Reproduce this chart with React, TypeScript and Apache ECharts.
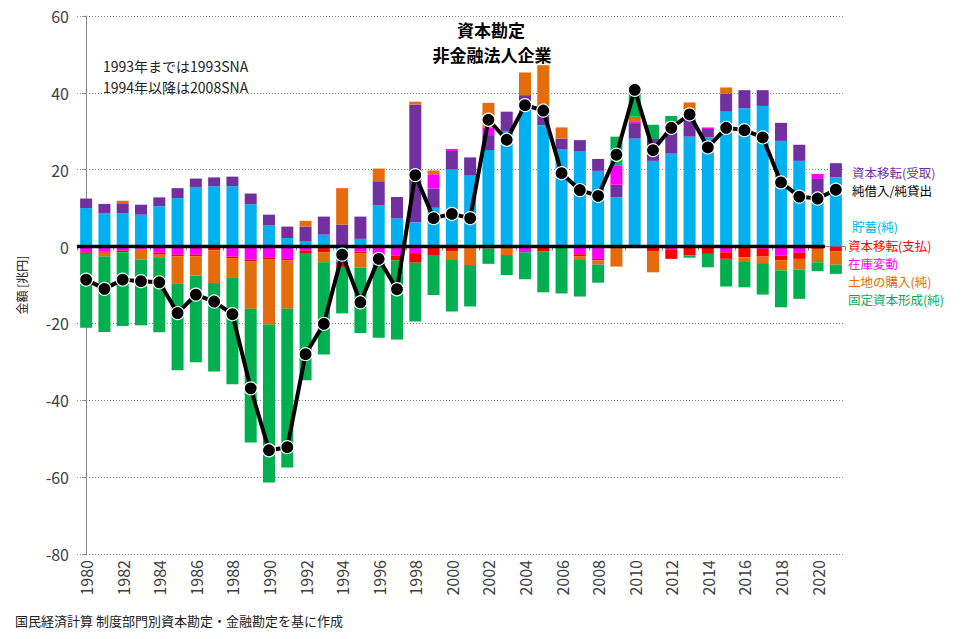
import React, { useEffect, useRef } from 'react';
import * as echarts from 'echarts';

const years = [
  '1980','1981','1982','1983','1984','1985','1986','1987','1988','1989',
  '1990','1991','1992','1993','1994','1995','1996','1997','1998','1999',
  '2000','2001','2002','2003','2004','2005','2006','2007','2008','2009',
  '2010','2011','2012','2013','2014','2015','2016','2017','2018','2019',
  '2020','2021',
];

// 貯蓄(純)
const savings = [10.0, 8.7, 8.7, 8.3, 10.5, 12.6, 15.4, 15.7, 15.7, 11.0, 5.5, 2.2, 1.3, 3.1, -4.0, 2.0, 10.7, 7.3, 6.3, 10.1, 20.1, 18.6, 25.1, 30.1, 37.2, 31.6, 25.3, 24.7, 19.7, 12.8, 28.1, 22.3, 24.2, 28.6, 28.4, 35.1, 36.0, 36.6, 27.5, 22.3, 12.8, 18.0];
// 資本移転(受取)
const capTransRecv = [2.5, 2.4, 2.6, 2.6, 2.3, 2.6, 2.3, 2.3, 2.5, 2.8, 2.8, 3.0, 3.9, 4.7, 5.7, 5.8, 6.3, 5.6, 30.7, 5.0, 4.8, 4.6, 3.9, 5.0, 2.2, 3.2, 2.8, 3.0, 3.1, 3.3, 3.8, 5.7, 6.6, 5.9, 2.2, 4.7, 4.7, 4.1, 4.7, 4.2, 4.8, 3.7];
// 在庫変動
const inventory = [-1.5, -1.3, -1.0, -0.6, -1.6, -2.1, -2.1, 0, -2.6, -3.4, -2.8, -3.2, -1.0, 0, 0, -1.3, -2.9, -2.4, -1.7, 3.7, 0.5, 0, 2.0, 0, -1.2, 0, 0, -2.0, -3.2, 4.9, 0.5, 0, -0.7, 0, 0.4, -1.5, 0, -0.6, -2.3, -1.6, 1.3, 0];
// 資本移転(支払)
const capTransPaid = [-0.4, -0.3, -0.5, 0, -0.5, -0.4, -0.4, -1.0, -0.4, -0.5, -0.6, -0.4, -0.7, -1.5, -1.3, -0.4, 0, -1.2, -2.5, -2.2, -1.3, -0.4, -0.5, -0.2, -0.3, -1.3, -0.2, -0.6, -0.4, 0, -0.3, -1.3, -2.5, -2.3, -1.9, -1.7, -2.8, -2.0, -1.3, -1.6, -0.6, -1.2];
// 土地の購入(純)
const landPurchase = [0, -1.0, 0.6, -2.8, -0.7, -7.2, -5.0, -8.5, -5.0, -12.3, -16.9, -12.6, 1.5, -2.6, 9.5, -3.8, 3.3, 0, 0.7, 1.0, -2.2, -4.4, 6.4, -2.0, 5.9, 12.4, 2.9, -0.9, -1.1, -5.2, 1.4, -5.4, 1.7, 3.0, 0, 1.6, -1.0, -1.7, -2.6, -2.8, -3.5, -3.5];
// 固定資本形成(純)
const fixedCapital = [-19.2, -19.6, -19.2, -17.1, -19.5, -22.5, -22.6, -23.0, -27.8, -34.8, -41.1, -41.3, -33.1, -24.0, -12.1, -17.0, -20.8, -20.6, -15.3, -10.4, -13.4, -10.8, -4.0, -5.2, -7.0, -10.6, -12.0, -9.5, -4.7, 7.6, 7.5, 3.7, 1.5, -0.6, -3.5, -7.2, -6.8, -8.2, -9.6, -7.6, -2.3, -2.4];
// 純借入/純貸出
const netLending = [-8.6, -11.0, -8.6, -9.0, -9.3, -17.3, -12.5, -14.3, -17.6, -36.9, -53.0, -52.2, -28.0, -20.1, -2.1, -14.5, -3.2, -11.1, 18.6, 7.4, 8.5, 7.4, 33.0, 27.8, 36.8, 35.4, 19.1, 14.7, 13.2, 23.9, 40.8, 25.1, 30.9, 34.4, 25.8, 30.9, 30.3, 28.4, 16.7, 13.0, 12.5, 14.8];

// zero reference line extent (category index units)
const zeroLineExtent = [-0.5, 40.4];

const yTicks = { min: -80, max: 60, interval: 20 };

const FONT = '"Noto Sans CJK JP", "Noto Sans", sans-serif';

const barSeries = [
  { name: '貯蓄(純)', data: savings, color: '#00B0F0' },
  { name: '資本移転(受取)', data: capTransRecv, color: '#7030A0' },
  { name: '在庫変動', data: inventory, color: '#FF00FF' },
  { name: '資本移転(支払)', data: capTransPaid, color: '#FF0000' },
  { name: '土地の購入(純)', data: landPurchase, color: '#E46C0A' },
  { name: '固定資本形成(純)', data: fixedCapital, color: '#00B050' },
];

export default function App() {
  const ref = useRef<HTMLDivElement>(null);
  useEffect(() => {
    const chart = echarts.init(ref.current as HTMLDivElement, null, { renderer: 'svg' });
    const labelText = (text: string, x: number, y: number, fill: string, size = 12.5, weight: any = 'normal', align = 'left') => ({
      type: 'text',
      x,
      y,
      style: { text, fill, font: `${weight} ${size}px ${FONT}`, textAlign: align, textVerticalAlign: 'middle' },
      silent: true,
    });
    chart.setOption({
      animation: false,
      textStyle: { fontFamily: FONT },
      grid: { left: 77, right: 132, top: 16, bottom: 85, containLabel: false },
      xAxis: [
        {
          type: 'category',
          data: years,
          position: 'bottom',
          axisLine: { show: false, onZero: false },
          axisTick: { show: false },
          axisLabel: { rotate: 90, interval: 1, fontSize: 16, color: '#404040', margin: 6, fontFamily: FONT },
        },
        {
          type: 'category',
          data: years,
          position: 'top',
          axisLine: { show: true, onZero: true, lineStyle: { color: '#888', width: 1 } },
          axisTick: { show: true, inside: true, length: 4, lineStyle: { color: '#888' } },
          axisLabel: { show: false },
        },
        {
          type: 'value',
          show: false,
          min: -0.5,
          max: 41.5,
        },
      ],
      yAxis: {
        type: 'value',
        min: yTicks.min,
        max: yTicks.max,
        interval: yTicks.interval,
        name: '金額 [兆円]',
        nameLocation: 'middle',
        nameGap: 50,
        nameRotate: 90,
        nameTextStyle: { fontSize: 12, color: '#222', fontFamily: FONT },
        axisLine: { show: true, lineStyle: { color: '#888' } },
        axisTick: { show: true, length: 4, lineStyle: { color: '#888' } },
        axisLabel: { fontSize: 16, color: '#404040', margin: 8, fontFamily: FONT },
        splitLine: { show: true, lineStyle: { color: '#888', type: [1, 2], width: 1 } },
      },
      series: [
        ...barSeries.map((s) => ({
          name: s.name,
          type: 'bar',
          stack: 'total',
          data: s.data,
          barWidth: 12,
          itemStyle: { color: s.color },
          xAxisIndex: 0,
          z: 2,
        })),
        {
          name: 'zero',
          type: 'line',
          xAxisIndex: 2,
          data: [[zeroLineExtent[0], 0], [zeroLineExtent[1], 0]],
          symbol: 'none',
          lineStyle: { color: '#000', width: 3.5 },
          silent: true,
          z: 3,
        },
        {
          name: '純借入/純貸出',
          type: 'line',
          data: netLending,
          xAxisIndex: 0,
          symbol: 'circle',
          symbolSize: 13,
          showSymbol: true,
          showAllSymbol: true,
          lineStyle: { color: '#000', width: 4 },
          itemStyle: { color: '#000', borderColor: '#fff', borderWidth: 1.2 },
          z: 4,
        },
      ],
      graphic: [
        labelText('資本勘定', 491, 29, '#000', 17, 'bold', 'center'),
        labelText('非金融法人企業', 492, 54, '#000', 17, 'bold', 'center'),
        labelText('1993年までは1993SNA', 103, 66, '#222', 14),
        labelText('1994年以降は2008SNA', 103, 86.5, '#222', 14),
        labelText('資本移転(受取)', 852, 172, '#7030A0'),
        labelText('純借入/純貸出', 852, 190.5, '#000'),
        labelText('貯蓄(純)', 852, 226, '#00B0F0'),
        labelText('資本移転(支払)', 848, 245, '#FF0000'),
        labelText('在庫変動', 848, 263.3, '#FF00FF'),
        labelText('土地の購入(純)', 848, 281.6, '#E46C0A'),
        labelText('固定資本形成(純)', 848, 299.9, '#00B050'),
        labelText('国民経済計算 制度部門別資本勘定・金融勘定を基に作成', 15, 620, '#222', 13),
      ],
    });
    return () => chart.dispose();
  }, []);
  return <div ref={ref} style={{ position: 'fixed', left: 0, top: 0, width: 977, height: 639, background: '#fff' }} />;
}
